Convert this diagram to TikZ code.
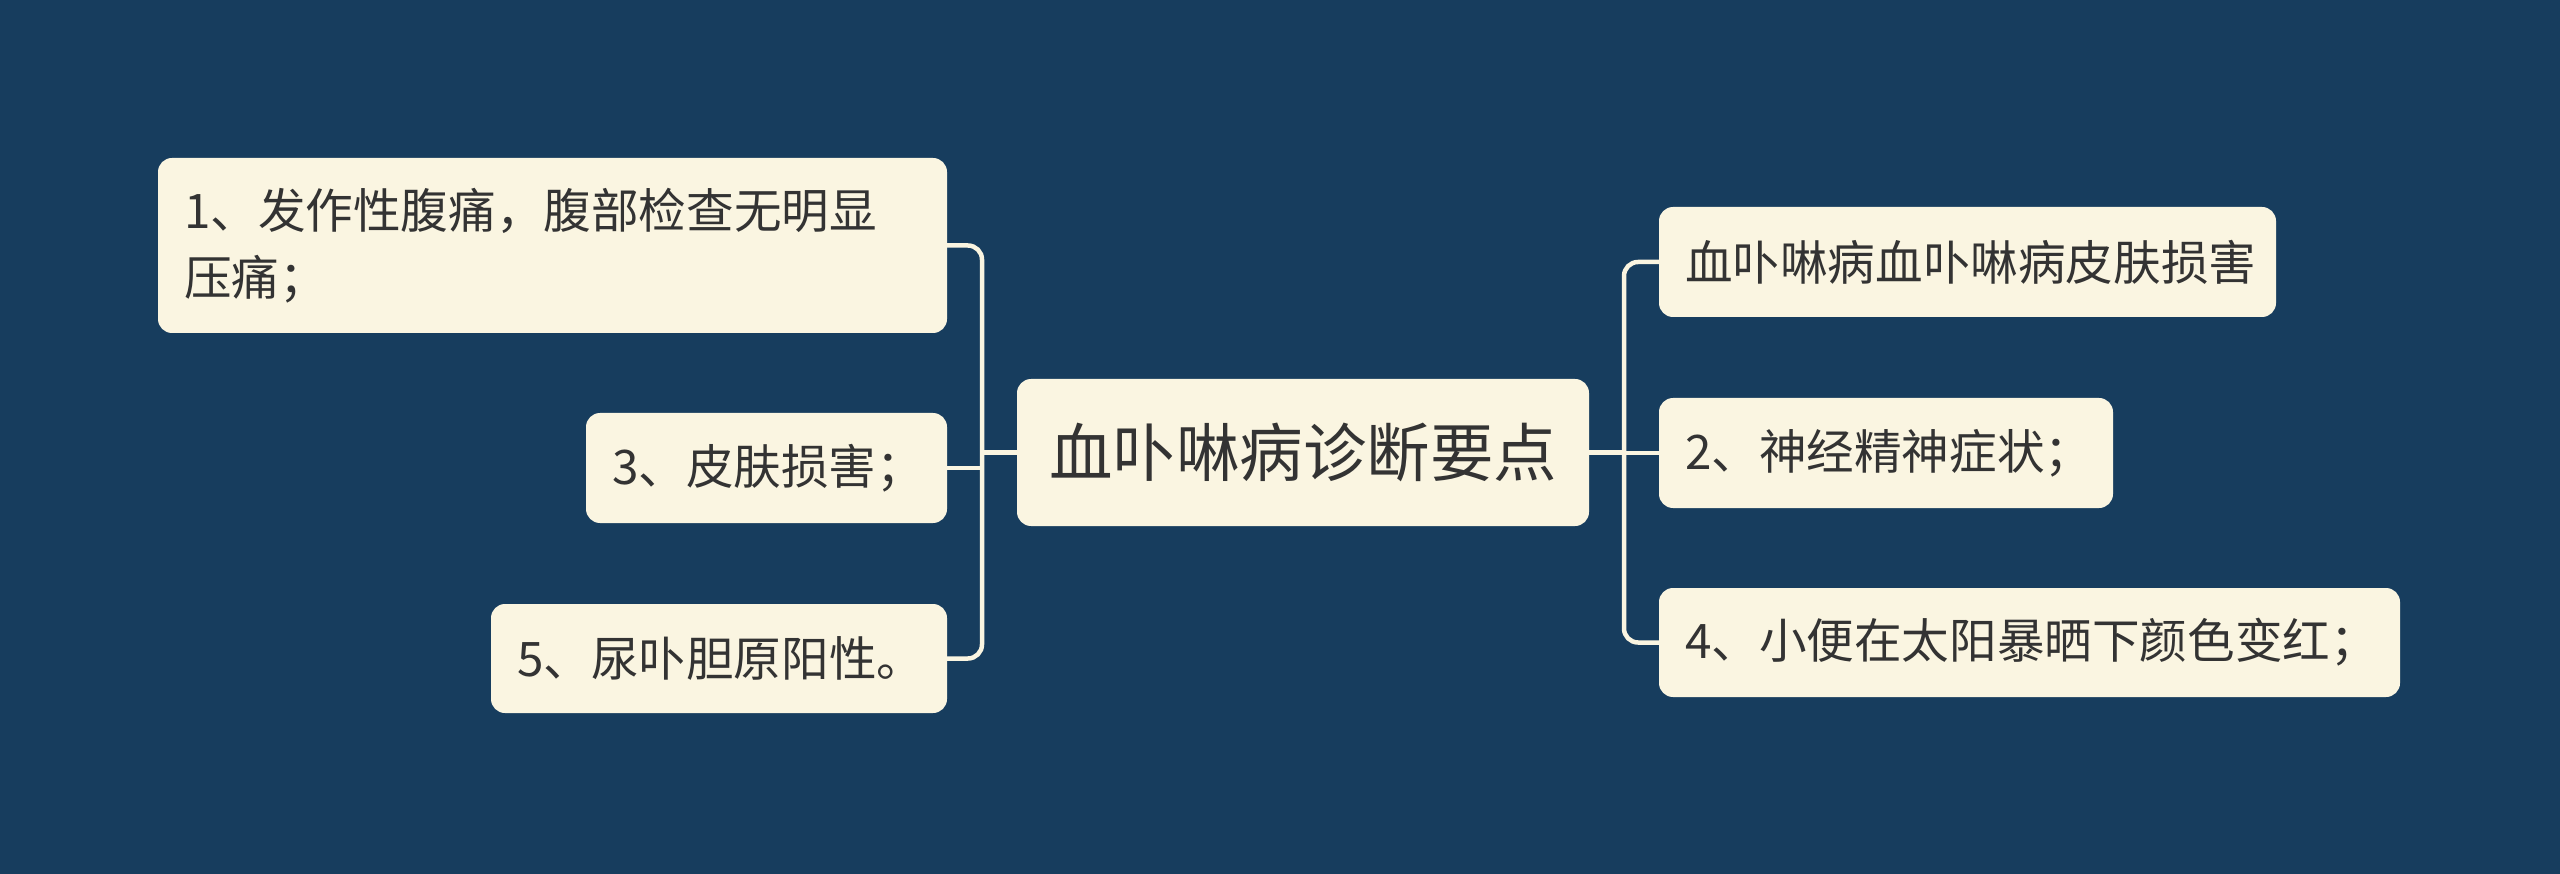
\documentclass[tikz,border=0pt]{standalone}
\usepackage{fontspec}
\newfontfamily\cjk{Noto Sans CJK SC}
\definecolor{bgc}{HTML}{173D5E}
\definecolor{boxc}{HTML}{FAF5E1}
\definecolor{txtc}{HTML}{333333}
\begin{document}
\begin{tikzpicture}[x=1pt,y=-1pt,
  box/.style={draw=none,fill=boxc,rounded corners=14pt,inner sep=0pt,text=txtc,
    font=\cjk\fontsize{47.6}{67}\selectfont,align=left},
  conn/.style={draw=boxc,line width=4.5pt,rounded corners=14pt}]
\useasboundingbox[fill=bgc] (0,0) rectangle (2560,874);
% central
\node[box,minimum width=572pt,minimum height=147pt,align=center,font=\cjk\fontsize{63.5}{80}\selectfont] (c) at (1303,452.5) {血卟啉病诊断要点};
% left
\node[box,minimum width=789pt,minimum height=175pt,text width=737pt] (n1) at (552.5,245.5) {1、发作性腹痛，腹部检查无明显\\压痛；};
\node[box,minimum width=361pt,minimum height=110pt,text width=309pt] (n3) at (766.5,468) {3、皮肤损害；};
\node[box,minimum width=456pt,minimum height=109pt,text width=404pt] (n5) at (719,658.5) {5、尿卟胆原阳性。};
% right
\node[box,minimum width=617pt,minimum height=110pt,text width=565pt] (r1) at (1967.5,262) {血卟啉病血卟啉病皮肤损害};
\node[box,minimum width=454pt,minimum height=110pt,text width=402pt] (r2) at (1886,453) {2、神经精神症状；};
\node[box,minimum width=741pt,minimum height=109pt,text width=689pt] (r4) at (2029.5,642.5) {4、小便在太阳暴晒下颜色变红；};
\coordinate (xl) at (982,0);
\coordinate (xr) at (1624,0);
% connectors left
\draw[conn] (n1.east) -- (xl |- n1.east) -- (xl |- n5.east) -- (n5.east);
\draw[conn] (n3.east) -- (xl |- n3.east);
\draw[conn] (c.west) -- (xl |- c.west);
% connectors right
\draw[conn] (r1.west) -- (xr |- r1.west) -- (xr |- r4.west) -- (r4.west);
\draw[conn] (r2.west) -- (xr |- r2.west);
\draw[conn] (c.east) -- (xr |- c.east);
\end{tikzpicture}
\end{document}
